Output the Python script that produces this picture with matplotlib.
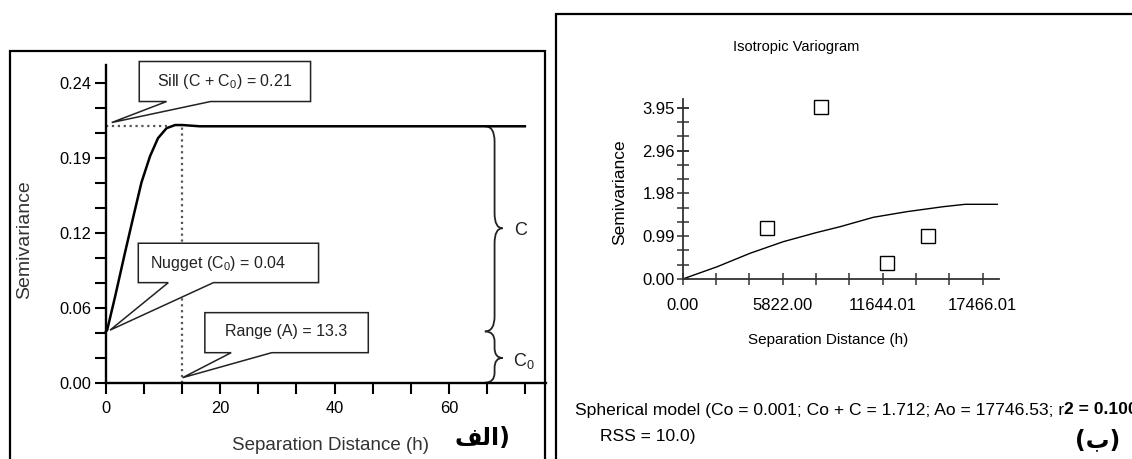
import numpy as np
import matplotlib
matplotlib.use("Agg")
import matplotlib.pyplot as plt
from matplotlib.path import Path
from matplotlib.patches import PathPatch, Polygon, Rectangle

plt.rcParams['font.family'] = ['Liberation Sans', 'DejaVu Sans']
plt.rcParams['mathtext.fontset'] = 'custom'
plt.rcParams['mathtext.rm'] = 'Liberation Sans'
plt.rcParams['mathtext.it'] = 'Liberation Sans:italic'
plt.rcParams['mathtext.bf'] = 'Liberation Sans:bold'

# ---- panel (a): idealised variogram
model_h = [0.0, 0.2, 1.6, 3.3, 4.8, 6.2, 7.7, 9.1, 10.6, 12.1, 13.4, 16.4, 73.3]
model_g = [0.041, 0.042, 0.069, 0.1035, 0.133, 0.160, 0.181, 0.1955, 0.2035,
           0.206, 0.206, 0.205, 0.205]
sill = 0.205
nugget = 0.041
range_a = 13.3
left_yticks = [0.0, 0.06, 0.12, 0.18, 0.24]
left_ylabels = ['0.00', '0.06', '0.12', '0.19', '0.24']
left_xticks = [0, 20, 40, 60]

# ---- panel (b): experimental variogram
lag_h = [4925, 8070, 11877, 14264]
lag_g = [1.174, 3.975, 0.363, 1.002]
fit_h = [0, 2014, 3918, 5857, 7761, 9158, 11097, 13038, 15172, 16436, 18316]
fit_g = [0.0, 0.285, 0.595, 0.864, 1.072, 1.21, 1.428, 1.558, 1.674, 1.729, 1.729]
right_yticks = [0.0, 0.99, 1.98, 2.96, 3.95]
right_ylabels = ['0.00', '0.99', '1.98', '2.96', '3.95']
right_xticks = [0.0, 5822.00, 11644.01, 17466.01]
right_xlabels = ['0.00', '5822.00', '11644.01', '17466.01']

W, H = 1132, 459
fig = plt.figure(figsize=(W / 100, H / 100), dpi=100)


def fx(x):
    return x / W


def fy(y):
    return 1 - y / H


# panel frames
fig.add_artist(Rectangle((fx(10), fy(600)), fx(535), (600 - 50.7) / H,
                         transform=fig.transFigure, fill=False, lw=1.6, ec='black'))
fig.add_artist(Rectangle((fx(556), fy(600)), fx(700), (600 - 14) / H,
                         transform=fig.transFigure, fill=False, lw=1.6, ec='black'))

# ================= left axes =================
ax = fig.add_axes([fx(106), fy(382.7), fx(440), 317.7 / H])
ax.set_xlim(0, 77)
ax.set_ylim(0, 0.254)
for s in ['top', 'right']:
    ax.spines[s].set_visible(False)
for s in ['left', 'bottom']:
    ax.spines[s].set_linewidth(1.7)
ax.set_yticks(left_yticks)
ax.set_yticklabels(left_ylabels)
ax.set_yticks(np.arange(0, 0.25, 0.02), minor=True)
ax.set_xticks(left_xticks)
ax.set_xticks(np.arange(0, 77, 20 / 3), minor=True)
ax.tick_params(which='both', direction='out', length=8, width=1.5, labelsize=11.8,
               colors='black')
ax.tick_params(axis='y', pad=2.5)
ax.tick_params(axis='x', pad=5)

ax.plot(model_h, model_g, color='black', lw=1.8, clip_on=False)
ax.plot([0, 10.6], [sill, sill], color='#555555', lw=1.6, ls=':', clip_on=False)
ax.plot([range_a, range_a], [0, sill], color='#555555', lw=1.6, ls=':')

fig.text(fx(25), fy(240), 'Semivariance', rotation=90, ha='center', va='center',
         fontsize=14, color='#333333')
fig.text(fx(331), fy(446), 'Separation Distance (h)', ha='center', va='center',
         fontsize=13.5, color='#333333')


def callout(x0, x1, ytop, ybot, b1, b2, tip, text, tx, ty):
    pts = [(x0, ytop), (x1, ytop), (x1, ybot), (b2, ybot), tip, (b1, ybot), (x0, ybot)]
    ax.add_patch(Polygon(pts, closed=True, fc='white', ec='#222222', lw=1.1,
                         clip_on=False, zorder=5))
    ax.text(tx, ty, text, ha='center', va='center', fontsize=11.5, zorder=6,
            color='#222222', clip_on=False)


callout(5.82, 35.8, 0.2568, 0.2248, 10.6, 18.3, (1.0, 0.208),
        r'Sill (C + C$_\mathrm{0}$) = 0.21', 20.8, 0.2408)
callout(5.65, 37.2, 0.1115, 0.080, 10.9, 18.8, (0.7, 0.042),
        r'Nugget (C$_\mathrm{0}$) = 0.04', 19.6, 0.0955)
callout(17.3, 45.9, 0.056, 0.024, 21.9, 29.0, (13.4, 0.004),
        'Range (A) = 13.3', 31.6, 0.0408)


def brace(xe, xm, xt, ytop, ybot, ymid, r):
    verts = [(xe, ytop), (xm, ytop), (xm, ytop - r),
             (xm, ymid + r), (xm, ymid), (xt, ymid),
             (xm, ymid), (xm, ymid - r),
             (xm, ybot + r), (xm, ybot), (xe, ybot)]
    codes = [Path.MOVETO, Path.CURVE3, Path.CURVE3,
             Path.LINETO, Path.CURVE3, Path.CURVE3,
             Path.CURVE3, Path.CURVE3,
             Path.LINETO, Path.CURVE3, Path.CURVE3]
    ax.add_patch(PathPatch(Path(verts, codes), fill=False, ec='#222222', lw=1.3,
                           clip_on=False))


brace(66.3, 68.0, 69.4, sill, nugget, 0.1235, 0.012)
brace(66.3, 68.0, 69.4, nugget, 0.0, 0.0198, 0.008)
ax.text(71.4, 0.1215, 'C', fontsize=13, va='center', ha='left', color='#222222')
ax.text(71.2, 0.017, r'C$_\mathrm{0}$', fontsize=13, va='center', ha='left',
        color='#222222')

# visual-order presentation forms of "(الف"
fig.text(fx(482), fy(438), '\ufed2\ufedf\ufe8d)', ha='center', va='center',
         fontsize=17, fontweight='bold', family=['DejaVu Sans'])

# ================= right axes =================
ax2 = fig.add_axes([fx(682.7), fy(279), fx(316.6), 179.7 / H])
ax2.set_xlim(0, 18433)
ax2.set_ylim(0, 4.16)
for s in ['top', 'right']:
    ax2.spines[s].set_visible(False)
for s in ['left', 'bottom']:
    ax2.spines[s].set_linewidth(1.3)
    ax2.spines[s].set_color('#333333')
ax2.set_yticks(right_yticks)
ax2.set_yticklabels(right_ylabels)
ax2.set_yticks(np.arange(0, 4.0, 0.99 / 3), minor=True)
ax2.set_xticks(right_xticks)
ax2.set_xticklabels(right_xlabels)
ax2.set_xticks(np.arange(0, 18433, 5822 / 3), minor=True)
ax2.tick_params(which='both', direction='inout', length=9, width=1.1, labelsize=12,
                color='#333333')
ax2.tick_params(axis='y', pad=1)
ax2.tick_params(axis='x', pad=9)

ax2.plot(fit_h, fit_g, color='black', lw=1.0)
ax2.plot(lag_h, lag_g, ls='none', marker='s', ms=10, mfc='none', mec='black', mew=1.0,
         clip_on=False)

fig.text(fx(796), fy(47), 'Isotropic Variogram', ha='center', va='center', fontsize=10.5)
fig.text(fx(620), fy(192), 'Semivariance', rotation=90, ha='center', va='center',
         fontsize=12.5)
fig.text(fx(828), fy(340), 'Separation Distance (h)', ha='center', va='center',
         fontsize=11)

t1 = fig.text(fx(575), fy(410), 'Spherical model (Co = 0.001; Co + C = 1.712; '
              'Ao = 17746.53; r', ha='left', va='center', fontsize=12.6)
ax2.annotate('2 = 0.100', xy=(1, 0), xycoords=t1, ha='left', va='bottom',
             fontsize=12.6, fontweight='bold', annotation_clip=False)
fig.text(fx(600), fy(436), 'RSS = 10.0)', ha='left', va='center', fontsize=12.6)
fig.text(fx(1098), fy(440), '(\ufe8f)', ha='center', va='center', fontsize=17,
         fontweight='bold', family=['DejaVu Sans'])

fig.savefig('out.png', dpi=100)
